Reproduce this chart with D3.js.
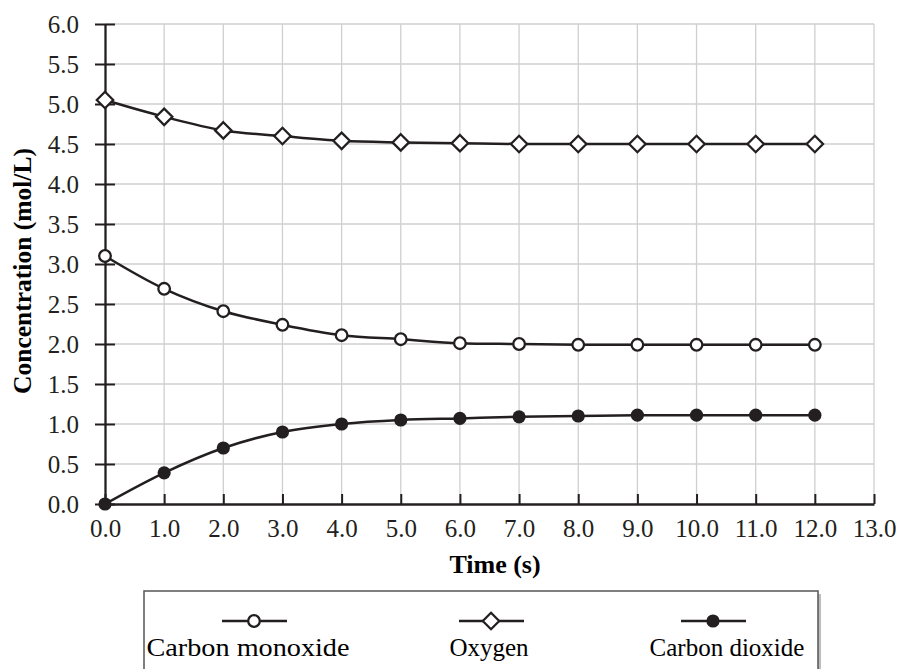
<!DOCTYPE html>
<html>
<head>
<meta charset="utf-8">
<script src="https://cdn.jsdelivr.net/npm/d3@7"></script>
<style>
  html, body { margin: 0; padding: 0; background: #fff; }
  svg { display: block; }
</style>
</head>
<body>
<svg id="chart" width="901" height="669"></svg>
<script>
const times = [0, 1, 2, 3, 4, 5, 6, 7, 8, 9, 10, 11, 12];
const carbonMonoxide = [3.10, 2.69, 2.41, 2.24, 2.11, 2.06, 2.01, 2.00, 1.99, 1.99, 1.99, 1.99, 1.99];
const oxygen = [5.05, 4.84, 4.67, 4.60, 4.54, 4.52, 4.51, 4.50, 4.50, 4.50, 4.50, 4.50, 4.50];
const carbonDioxide = [0.00, 0.39, 0.70, 0.90, 1.00, 1.05, 1.07, 1.09, 1.10, 1.11, 1.11, 1.11, 1.11];
const seriesNames = ["Carbon monoxide", "Oxygen", "Carbon dioxide"];
const xTicks = [0, 1, 2, 3, 4, 5, 6, 7, 8, 9, 10, 11, 12, 13];
const yTicks = [0, 0.5, 1, 1.5, 2, 2.5, 3, 3.5, 4, 4.5, 5, 5.5, 6];

const INK = "#231f20";
const GRID = "#cfcfcf";
const FONT = "'Liberation Serif', 'Times New Roman', serif";

const svg = d3.select("#chart");
const x = d3.scaleLinear().domain([0, 13]).range([105, 874]);
const y = d3.scaleLinear().domain([0, 6]).range([504, 24]);

// grid
const grid = svg.append("g");
grid.selectAll("line.v").data(xTicks.slice(1)).enter().append("line")
  .attr("x1", d => x(d)).attr("x2", d => x(d))
  .attr("y1", y(0)).attr("y2", y(6))
  .attr("stroke", GRID).attr("stroke-width", 1.3);
grid.selectAll("line.h").data(yTicks.slice(1)).enter().append("line")
  .attr("x1", x(0)).attr("x2", x(13))
  .attr("y1", d => y(d)).attr("y2", d => y(d))
  .attr("stroke", GRID).attr("stroke-width", 1.3);

// x axis
const xAxis = svg.append("g")
  .attr("transform", `translate(0,${y(0)})`)
  .call(d3.axisBottom(x).tickValues(xTicks).tickFormat(d3.format(".1f")).tickSize(-10).tickSizeOuter(0).tickPadding(15));
xAxis.select(".domain").attr("stroke", INK).attr("stroke-width", 2.3);
xAxis.selectAll(".tick line").attr("stroke", INK).attr("stroke-width", 2);
xAxis.selectAll(".tick text").attr("fill", INK).attr("font-family", FONT).attr("font-size", 25);

// y axis
const yAxis = svg.append("g")
  .attr("transform", `translate(${x(0)},0)`)
  .call(d3.axisLeft(y).tickValues(yTicks).tickFormat(d3.format(".1f")).tickSize(10).tickSizeOuter(0).tickPadding(16));
yAxis.select(".domain").attr("stroke", INK).attr("stroke-width", 2.3);
yAxis.selectAll(".tick line").attr("stroke", INK).attr("stroke-width", 2).attr("x2", 10).attr("x1", -10);
yAxis.selectAll(".tick text").attr("fill", INK).attr("font-family", FONT).attr("font-size", 25);

// axis titles
svg.append("text")
  .attr("x", 495).attr("y", 573)
  .attr("text-anchor", "middle")
  .attr("font-family", FONT).attr("font-weight", "bold").attr("font-size", 26)
  .attr("fill", "#000")
  .text("Time (s)");
svg.append("text")
  .attr("transform", `translate(31,${271}) rotate(-90)`)
  .attr("text-anchor", "middle")
  .attr("font-family", FONT).attr("font-weight", "bold").attr("font-size", 25.5)
  .attr("fill", "#000")
  .text("Concentration (mol/L)");

// series
const series = [
  { name: seriesNames[0], values: carbonMonoxide, marker: "openCircle" },
  { name: seriesNames[1], values: oxygen, marker: "diamond" },
  { name: seriesNames[2], values: carbonDioxide, marker: "filledCircle" }
];

const line = d3.line()
  .x(d => x(d[0])).y(d => y(d[1]))
  .curve(d3.curveCatmullRom.alpha(0.5));

function drawMarker(g, type, cx, cy) {
  if (type === "openCircle") {
    g.append("circle").attr("cx", cx).attr("cy", cy).attr("r", 5.8)
      .attr("fill", "#fff").attr("stroke", INK).attr("stroke-width", 2.3);
  } else if (type === "filledCircle") {
    g.append("circle").attr("cx", cx).attr("cy", cy).attr("r", 6.6)
      .attr("fill", INK).attr("stroke", "none");
  } else {
    const s = 8.2;
    g.append("path")
      .attr("d", `M${cx},${cy - s}L${cx + s},${cy}L${cx},${cy + s}L${cx - s},${cy}Z`)
      .attr("fill", "#fff").attr("stroke", INK).attr("stroke-width", 2.3);
  }
}

series.forEach(s => {
  const pts = times.map((t, i) => [t, s.values[i]]);
  svg.append("path").datum(pts)
    .attr("d", line)
    .attr("fill", "none").attr("stroke", INK).attr("stroke-width", 2.5);
  const g = svg.append("g");
  pts.forEach(p => drawMarker(g, s.marker, x(p[0]), y(p[1])));
});

// legend
const lg = svg.append("g");
lg.append("rect").attr("x", 147).attr("y", 594).attr("width", 674).attr("height", 100)
  .attr("fill", "#bdbdbd");
lg.append("rect").attr("x", 144).attr("y", 591).attr("width", 674).attr("height", 100)
  .attr("fill", "#fff").attr("stroke", "#555").attr("stroke-width", 1.5);

const legendItems = [
  { cx: 254, tx: 248, w: 203 },
  { cx: 491, tx: 489, w: null },
  { cx: 713, tx: 727, w: null }
];
series.forEach((s, i) => {
  const it = legendItems[i];
  lg.append("line").attr("x1", it.cx - 32).attr("x2", it.cx + 33)
    .attr("y1", 621).attr("y2", 621)
    .attr("stroke", INK).attr("stroke-width", 2.4);
  drawMarker(lg, s.marker, it.cx, 621);
  const t = lg.append("text").attr("x", it.tx).attr("y", 656)
    .attr("text-anchor", "middle")
    .attr("font-family", FONT).attr("font-size", 25).attr("fill", "#000")
    .text(s.name);
  if (it.w) t.attr("textLength", it.w).attr("lengthAdjust", "spacingAndGlyphs");
});
</script>
</body>
</html>
